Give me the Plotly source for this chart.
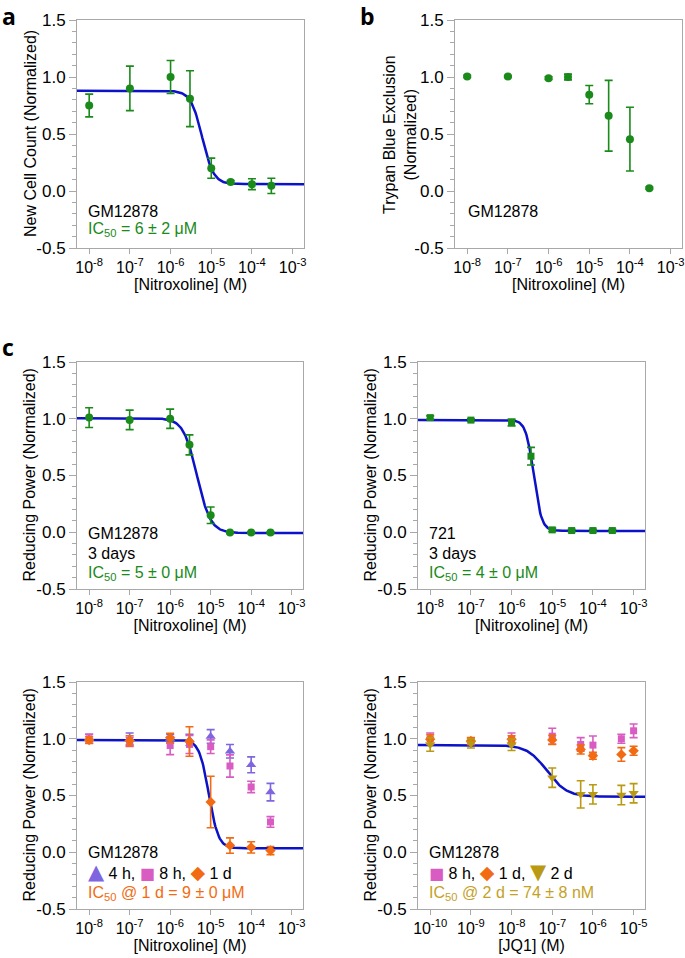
import numpy as np
import plotly.graph_objects as go

# ---------------- data ----------------
conc_nitro = [1e-8, 1e-7, 1e-6, 3e-6, 1e-5, 3e-5, 1e-4, 3e-4]
conc_jq1 = [1e-10, 1e-9, 1e-8, 1e-7, 5e-7, 1e-6, 5e-6, 1e-5]

nitro_tickvals = [1e-8, 1e-7, 1e-6, 1e-5, 1e-4, 1e-3]
nitro_ticktext = ["10<sup>-8</sup>", "10<sup>-7</sup>", "10<sup>-6</sup>",
                  "10<sup>-5</sup>", "10<sup>-4</sup>", "10<sup>-3</sup>"]
jq1_tickvals = [1e-10, 1e-9, 1e-8, 1e-7, 1e-6, 1e-5]
jq1_ticktext = ["10<sup>-10</sup>", "10<sup>-9</sup>", "10<sup>-8</sup>",
                "10<sup>-7</sup>", "10<sup>-6</sup>", "10<sup>-5</sup>"]
y_tickvals = [-0.5, 0.0, 0.5, 1.0, 1.5]
y_ticktext = ["-0.5", "0.0", "0.5", "1.0", "1.5"]

# panel a: new cell count
a_count = [0.75, 0.90, 1.00, 0.81, 0.20, 0.08, 0.06, 0.045]
a_err = [0.10, 0.195, 0.145, 0.245, 0.088, 0.012, 0.048, 0.067]
a_fit = [0.88, 0.06, 6e-6, 3.1]          # top, bottom, IC50, hill

# panel b: trypan blue exclusion
b_trypan = [1.005, 1.005, 0.99, 1.0, 0.845, 0.66, 0.455, 0.025]
b_err = [0.01, 0.008, 0.012, 0.025, 0.08, 0.31, 0.28, 0.01]

# panel c (top left): GM12878, 3 days
c1_power = [1.01, 0.99, 1.0, 0.77, 0.15, -0.003, -0.003, -0.003]
c1_err = [0.087, 0.086, 0.085, 0.088, 0.073, 0.008, 0.008, 0.008]
c1_fit = [1.005, -0.007, 4.6e-6, 2.6]

# panel c (top right): 721, 3 days
c2_power = [1.01, 0.988, 0.967, 0.67, 0.021, 0.015, 0.015, 0.015]
c2_err = [0.015, 0.012, 0.03, 0.078, 0.015, 0.01, 0.01, 0.01]
c2_fit = [0.99, 0.012, 3.5e-6, 4.5]

# panel c (bottom left): GM12878 time course, nitroxoline
d_4h = [1.00, 1.00, 1.00, 0.99, 1.02, 0.89, 0.77, 0.53]
d_4h_err = [0.04, 0.05, 0.04, 0.05, 0.06, 0.06, 0.07, 0.077]
d_8h = [1.0, 0.973, 0.94, 0.95, 0.93, 0.76, 0.575, 0.267]
d_8h_err = [0.04, 0.04, 0.08, 0.08, 0.06, 0.098, 0.05, 0.047]
d_1d = [0.988, 0.982, 1.008, 0.976, 0.443, 0.059, 0.043, 0.015]
d_1d_err = [0.03, 0.045, 0.04, 0.13, 0.227, 0.068, 0.05, 0.036]
d_fit = [0.99, 0.035, 9e-6, 3.7]

# panel c (bottom right): GM12878 time course, JQ1
e_8h = [1.0, 0.979, 1.0, 1.023, 0.95, 0.944, 1.0, 1.07]
e_8h_err = [0.05, 0.03, 0.05, 0.07, 0.06, 0.08, 0.04, 0.06]
e_1d = [0.996, 0.98, 0.996, 0.99, 0.906, 0.85, 0.862, 0.894]
e_1d_err = [0.04, 0.03, 0.03, 0.04, 0.04, 0.03, 0.06, 0.04]
e_2d = [0.95, 0.959, 0.947, 0.657, 0.51, 0.51, 0.504, 0.52]
e_2d_err = [0.06, 0.04, 0.05, 0.085, 0.12, 0.085, 0.085, 0.085]
e_fit = [0.945, 0.49, 7.4e-8, 1.8]

# ---------------- style ----------------
W, H = 685, 958
FONT = "'Liberation Sans', Arial, sans-serif"
GREEN = "#1a8a1a"
BLUE = "#0c12c8"
PURPLE = "#7f66e0"
MAGENTA = "#d85cc2"
ORANGE = "#f26b12"
GOLD = "#b99a12"
GOLD_TXT = "#c4a126"
AXIS = "#a8a8a8"

NITRO_RANGE = [-8.3, -2.72]
JQ1_RANGE = [-10.3, -4.72]

# panel boxes in pixels: (left, right, top, bottom)
boxes = {
    1: (77, 304, 20, 248),
    2: (455, 682, 20, 248),
    3: (77, 303, 362, 589),
    4: (418, 645, 362, 589),
    5: (77, 303, 682, 909),
    6: (418, 645, 682, 909),
}

fig = go.Figure()


def hill(x, p):
    top, bottom, ic50, h = p
    x = np.asarray(x)
    return bottom + (top - bottom) / (1.0 + (x / ic50) ** h)


def add_fit(k, p, xr):
    xs = np.logspace(xr[0], xr[1], 300)
    fig.add_trace(go.Scatter(
        x=xs, y=hill(xs, p), mode="lines",
        line=dict(color=BLUE, width=2.5),
        xaxis=f"x{k}", yaxis=f"y{k}", showlegend=False, hoverinfo="skip"))


def add_pts(k, x, y, err, color, symbol, size):
    fig.add_trace(go.Scatter(
        x=x, y=y, mode="markers",
        marker=dict(color=color, symbol=symbol, size=size, line=dict(width=0)),
        error_y=dict(type="data", array=err, visible=True, color=color,
                     thickness=1.6, width=4),
        xaxis=f"x{k}", yaxis=f"y{k}", showlegend=False))


# panel a
add_fit(1, a_fit, NITRO_RANGE)
add_pts(1, conc_nitro, a_count, a_err, GREEN, "circle", 8)
# panel b
add_pts(2, conc_nitro, b_trypan, b_err, GREEN, "circle", 8)
# panel c top-left
add_fit(3, c1_fit, NITRO_RANGE)
add_pts(3, conc_nitro, c1_power, c1_err, GREEN, "circle", 8)
# panel c top-right
add_fit(4, c2_fit, NITRO_RANGE)
add_pts(4, conc_nitro, c2_power, c2_err, GREEN, "square", 7)
# panel c bottom-left
add_fit(5, d_fit, NITRO_RANGE)
add_pts(5, conc_nitro, d_4h, d_4h_err, PURPLE, "triangle-up", 9)
add_pts(5, conc_nitro, d_8h, d_8h_err, MAGENTA, "square", 7)
add_pts(5, conc_nitro, d_1d, d_1d_err, ORANGE, "diamond", 8)
# panel c bottom-right
add_fit(6, e_fit, JQ1_RANGE)
add_pts(6, conc_jq1, e_8h, e_8h_err, MAGENTA, "square", 7)
add_pts(6, conc_jq1, e_1d, e_1d_err, ORANGE, "diamond", 8)
add_pts(6, conc_jq1, e_2d, e_2d_err, GOLD, "triangle-down", 9)

ytitles = {
    1: "New Cell Count (Normalized)",
    2: "Trypan Blue Exclusion<br>(Normalized)",
    3: "Reducing Power (Normalized)",
    4: "Reducing Power (Normalized)",
    5: "Reducing Power (Normalized)",
    6: "Reducing Power (Normalized)",
}
# x-centre (px) of each y-axis title
ytitle_x = {1: 30, 2: 400, 3: 29, 4: 370, 5: 29, 6: 370}
xtitles = {k: "[Nitroxoline] (M)" for k in range(1, 6)}
xtitles[6] = "[JQ1] (M)"

layout = dict(
    width=W, height=H, margin=dict(l=0, r=0, t=0, b=0),
    paper_bgcolor="white", plot_bgcolor="white",
    font=dict(family=FONT, size=16, color="black"),
    showlegend=False,
)

for k, (l, r, t, b) in boxes.items():
    jq = (k == 6)
    layout[f"xaxis{k}"] = dict(
        domain=[l / W, r / W], anchor=f"y{k}", type="log",
        range=JQ1_RANGE if jq else NITRO_RANGE,
        tickmode="array",
        tickvals=jq1_tickvals if jq else nitro_tickvals,
        ticktext=jq1_ticktext if jq else nitro_ticktext,
        ticks="outside", ticklen=5, tickwidth=1, tickcolor=AXIS,
        showline=True, linecolor=AXIS, linewidth=1, mirror=True,
        showgrid=False, zeroline=False, automargin=False,
        tickfont=dict(size=16),
        title=dict(text=xtitles[k], standoff=1, font=dict(size=16)),
    )
    layout[f"yaxis{k}"] = dict(
        domain=[1 - b / H, 1 - t / H], anchor=f"x{k}",
        range=[-0.5, 1.5], tickmode="array",
        tickvals=y_tickvals, ticktext=y_ticktext,
        ticks="outside", ticklen=7, tickwidth=1, tickcolor=AXIS,
        minor=dict(tickmode="linear", tick0=0, dtick=0.1, ticks="outside",
                   ticklen=4, tickcolor=AXIS, showgrid=False),
        showline=True, linecolor=AXIS, linewidth=1, mirror=True,
        showgrid=False, zeroline=False, automargin=False,
        tickfont=dict(size=17),
    )

fig.update_layout(**layout)


def ann(x, y, text, color="black", size=16, bold=False, family=FONT,
        xanchor="left", angle=0):
    fig.add_annotation(
        x=x / W, y=1 - y / H, xref="paper", yref="paper",
        text=f"<b>{text}</b>" if bold else text,
        showarrow=False, xanchor=xanchor, yanchor="middle", textangle=angle,
        font=dict(family=family, size=size, color=color))


# y-axis titles
for k, (l, r, t, b) in boxes.items():
    ann(ytitle_x[k], (t + b) / 2, ytitles[k], xanchor="center", angle=-90)

# panel letters
LETTER_FONT = "'Open Sans', 'DejaVu Sans', sans-serif"
ann(0, 16, "a", size=23, bold=True, family=LETTER_FONT)
ann(358, 16, "b", size=23, bold=True, family=LETTER_FONT)
ann(0, 347, "c", size=23, bold=True, family=LETTER_FONT)

IC = "IC<sub>50</sub>"


def sym(color, glyph, size):
    return (f"<span style='color:{color};font-size:{size}px;"
            f"font-family:DejaVu Sans'>{glyph}</span>")


# panel a
ann(86, 211, "GM12878")
ann(86, 230, f"{IC} = 6 ± 2 μM", GREEN)
# panel b
ann(466, 211, "GM12878")
# panel c top-left
ann(86, 533, "GM12878")
ann(86, 553, "3 days")
ann(86, 573, f"{IC} = 5 ± 0 μM", GREEN)
# panel c top-right
ann(427, 533, "721")
ann(427, 553, "3 days")
ann(427, 573, f"{IC} = 4 ± 0 μM", GREEN)
# panel c bottom-left
ann(86, 852, "GM12878")
ann(86, 872,
    sym(PURPLE, "▲", 21) + " 4 h, "
    + sym(MAGENTA, "■", 16) + " 8 h, "
    + sym(ORANGE, "◆", 19) + " 1 d")
ann(86, 893, f"{IC} @ 1 d = 9 ± 0 μM", ORANGE)
# panel c bottom-right
ann(427, 852, "GM12878")
ann(427, 872,
    sym(MAGENTA, "■", 16) + " 8 h, "
    + sym(ORANGE, "◆", 19) + " 1 d, "
    + sym(GOLD, "▼", 21) + " 2 d")
ann(427, 893, f"{IC} @ 2 d = 74 ± 8 nM", GOLD_TXT)

fig.write_html("out.html",
               config={"displayModeBar": False},
               post_script="document.body.style.margin='0px';"
                           "document.body.style.padding='0px';")
